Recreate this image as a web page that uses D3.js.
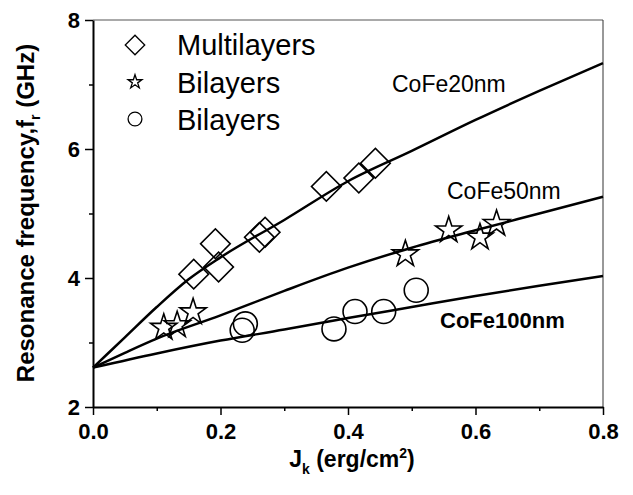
<!DOCTYPE html>
<html>
<head>
<meta charset="utf-8">
<script src="https://cdn.jsdelivr.net/npm/d3@7"></script>
<style>
  body { margin: 0; background: #fff; }
  text { font-family: "Liberation Sans", Arial, sans-serif; }
</style>
</head>
<body>
<div id="root"></div>
<script>
const width = 633
const height = 495
const margin = {left: 93, right: 30, top: 20, bottom: 88}

// measured points
const multiJ = [0.158, 0.192, 0.197, 0.261, 0.270, 0.366, 0.417, 0.443]
const multiF = [4.06, 4.53, 4.17, 4.63, 4.71, 5.42, 5.55, 5.78]
const biStarJ = [0.111, 0.132, 0.157, 0.490, 0.558, 0.607, 0.633]
const biStarF = [3.23, 3.27, 3.47, 4.37, 4.74, 4.63, 4.84]
const biCircJ = [0.239, 0.234, 0.378, 0.411, 0.456, 0.507]
const biCircF = [3.29, 3.19, 3.21, 3.48, 3.48, 3.81]

// fitted curves
const fit20J = [0, 0.05, 0.1, 0.15, 0.2, 0.3, 0.4, 0.5, 0.6, 0.7, 0.8]
const fit20F = [2.61, 3.08, 3.55, 3.98, 4.32, 4.9, 5.5, 5.97, 6.45, 6.9, 7.33]
const fit50J = [0, 0.05, 0.1, 0.2, 0.3, 0.4, 0.5, 0.6, 0.7, 0.8]
const fit50F = [2.61, 2.84, 3.06, 3.42, 3.8, 4.16, 4.47, 4.74, 5.0, 5.26]
const fit100J = [0, 0.1, 0.2, 0.3, 0.4, 0.5, 0.6, 0.7, 0.8]
const fit100F = [2.61, 2.83, 3.03, 3.2, 3.38, 3.55, 3.72, 3.88, 4.03]

const xTicks = [0, 0.2, 0.4, 0.6, 0.8]
const xMinor = [0.1, 0.3, 0.5, 0.7]
const yTicks = [2, 4, 6, 8]
const yMinor = [3, 5, 7]

const svg = d3.select('#root').append('svg')
  .attr('width', width)
  .attr('height', height)

const x = d3.scaleLinear().domain([0, 0.8]).range([margin.left, width - margin.right])
const y = d3.scaleLinear().domain([2, 8]).range([height - margin.bottom, margin.top])

// frame top / right
svg.append('line')
  .attr('x1', x(0)).attr('x2', x(0.8)).attr('y1', y(8)).attr('y2', y(8))
  .attr('stroke', '#555').attr('stroke-width', 1)
svg.append('line')
  .attr('x1', x(0.8)).attr('x2', x(0.8)).attr('y1', y(8)).attr('y2', y(2))
  .attr('stroke', '#333').attr('stroke-width', 1)

// axes
const xAxis = svg.append('g')
  .attr('transform', `translate(0,${y(2)})`)
  .call(d3.axisBottom(x).tickValues(xTicks).tickFormat(d3.format('.1f')).tickSize(8).tickPadding(8).tickSizeOuter(0))
svg.append('g')
  .attr('transform', `translate(0,${y(2)})`)
  .call(d3.axisBottom(x).tickValues(xMinor).tickFormat('').tickSize(4).tickSizeOuter(0))
  .call(g => g.select('.domain').remove())

const yAxis = svg.append('g')
  .attr('transform', `translate(${x(0)},0)`)
  .call(d3.axisLeft(y).tickValues(yTicks).tickFormat(d3.format('d')).tickSize(8).tickPadding(5).tickSizeOuter(0))
svg.append('g')
  .attr('transform', `translate(${x(0)},0)`)
  .call(d3.axisLeft(y).tickValues(yMinor).tickFormat('').tickSize(4).tickSizeOuter(0))
  .call(g => g.select('.domain').remove())

svg.selectAll('.domain').attr('stroke-width', 2).attr('stroke', '#000')
svg.selectAll('.tick line').attr('stroke-width', 1.5).attr('stroke', '#000')
svg.selectAll('.tick text')
  .style('font-family', '"Liberation Sans", Arial, sans-serif')
  .style('font-size', '22px')
  .style('font-weight', 'bold')
  .attr('fill', '#000')

// axis titles
svg.append('text')
  .attr('x', 352).attr('y', 467)
  .attr('text-anchor', 'middle')
  .style('font-size', '23px').style('font-weight', 'bold')
  .html('J<tspan dy="7" font-size="14">k</tspan><tspan dy="-7"> (erg/cm</tspan><tspan dy="-9" font-size="14">2</tspan><tspan dy="9">)</tspan>')

svg.append('text')
  .attr('transform', 'translate(34,213) rotate(-90)')
  .attr('text-anchor', 'middle')
  .style('font-size', '24px').style('font-weight', 'bold')
  .html('Resonance frequency,f<tspan dy="6" font-size="14">r</tspan><tspan dy="-6"> (GHz)</tspan>')

// fitted curves
const line = d3.line()
  .x(d => x(d[0]))
  .y(d => y(d[1]))
  .curve(d3.curveMonotoneX)

const fits = [
  d3.zip(fit20J, fit20F),
  d3.zip(fit50J, fit50F),
  d3.zip(fit100J, fit100F)
]
svg.selectAll('path.fit')
  .data(fits)
  .enter().append('path')
  .attr('class', 'fit')
  .attr('d', line)
  .attr('fill', 'none')
  .attr('stroke', '#000')
  .attr('stroke-width', 2.5)

// markers
const diamond = d3.symbol(d3.symbolSquare).size(440)
const star = d3.symbol(d3.symbolStar).size(215)
const circle = d3.symbol(d3.symbolCircle).size(450)

function drawMarks(js, fs, sym, rot) {
  svg.append('g').selectAll('path')
    .data(d3.zip(js, fs))
    .enter().append('path')
    .attr('d', sym)
    .attr('transform', d => `translate(${x(d[0])},${y(d[1])}) rotate(${rot})`)
    .attr('fill', 'none')
    .attr('stroke', '#000')
    .attr('stroke-width', 1.6)
}
drawMarks(multiJ, multiF, diamond, 45)
drawMarks(biStarJ, biStarF, star, 0)
drawMarks(biCircJ, biCircF, circle, 0)

// legend
const legend = [
  {sym: d3.symbol(d3.symbolSquare).size(190), rot: 45, label: 'Multilayers', cy: 45, ty: 55},
  {sym: d3.symbol(d3.symbolStar).size(60), rot: 0, label: 'Bilayers', cy: 82, ty: 93},
  {sym: d3.symbol(d3.symbolCircle).size(150), rot: 0, label: 'Bilayers', cy: 119, ty: 130}
]
legend.forEach(l => {
  svg.append('path')
    .attr('d', l.sym)
    .attr('transform', `translate(135,${l.cy}) rotate(${l.rot})`)
    .attr('fill', 'none').attr('stroke', '#000').attr('stroke-width', 1.3)
  svg.append('text')
    .attr('x', 177).attr('y', l.ty)
    .style('font-size', '29px')
    .text(l.label)
})

// curve labels
svg.append('text').attr('x', 392).attr('y', 92).style('font-size', '23px').text('CoFe20nm')
svg.append('text').attr('x', 447).attr('y', 199).style('font-size', '23px').text('CoFe50nm')
svg.append('text').attr('x', 440).attr('y', 328).style('font-size', '22px').style('font-weight', 'bold').text('CoFe100nm')
</script>
</body>
</html>
